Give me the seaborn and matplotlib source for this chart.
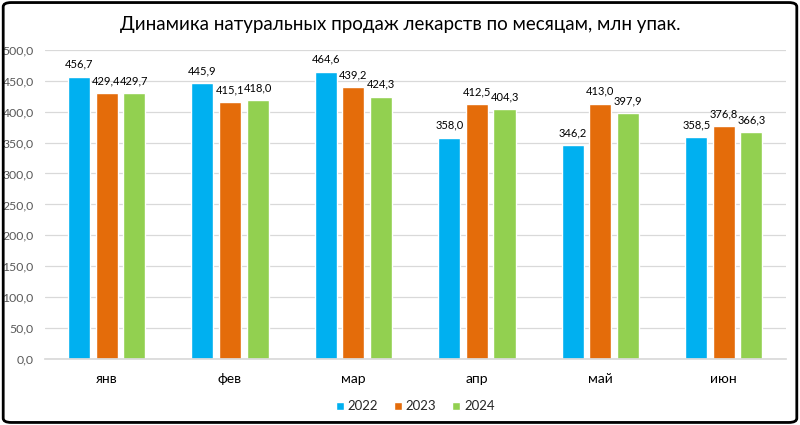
import matplotlib
matplotlib.use("Agg")
import matplotlib.pyplot as plt
import seaborn as sns
import pandas as pd
from matplotlib.patches import FancyBboxPatch
from matplotlib.ticker import FuncFormatter

months = ["янв", "фев", "мар", "апр", "май", "июн"]
years = ["2022", "2023", "2024"]
v2022 = [456.7, 445.9, 464.6, 358.0, 346.2, 358.5]
v2023 = [429.4, 415.1, 439.2, 412.5, 413.0, 376.8]
v2024 = [429.7, 418.0, 424.3, 404.3, 397.9, 366.3]
colors = ["#00B0F0", "#E46C0A", "#92D050"]
title = "Динамика натуральных продаж лекарств по месяцам, млн упак."

rows = []
for y, vals in zip(years, [v2022, v2023, v2024]):
    for m, v in zip(months, vals):
        rows.append({"month": m, "year": y, "value": v})
df = pd.DataFrame(rows)

sns.set_theme(style="white")
plt.rcParams["font.family"] = ["Lato", "DejaVu Sans"]

fig = plt.figure(figsize=(8, 4.25), dpi=100)
ax = fig.add_axes([0.056, 0.155, 0.926, 0.728])

sns.barplot(data=df, x="month", y="value", hue="year", palette=colors,
            width=0.67, gap=0.2, ax=ax, errorbar=None, saturation=1,
            order=months, hue_order=years)

ax.set_ylim(0, 500)
ax.set_yticks(range(0, 501, 50))
ax.yaxis.set_major_formatter(FuncFormatter(lambda v, p: f"{v:.1f}".replace(".", ",")))
ax.grid(axis="y", color="#D9D9D9", linewidth=0.9)
ax.set_axisbelow(True)
for s in ["top", "right", "left"]:
    ax.spines[s].set_visible(False)
ax.spines["bottom"].set_color("#D9D9D9")
ax.set_xlabel("")
ax.set_ylabel("")
ax.tick_params(axis="y", labelsize=8.8, colors="#595959", length=0, pad=8)
ax.tick_params(axis="x", labelsize=10, colors="#000000", length=0, pad=10)
ax.set_xlim(-0.5, 5.5)

for cont in ax.containers:
    ax.bar_label(cont, labels=[f"{v:.1f}".replace(".", ",") for v in cont.datavalues],
                 fontsize=8, color="#000000", padding=5)

leg = ax.legend(loc="upper center", bbox_to_anchor=(0.5, -0.095), ncol=3, frameon=False,
                fontsize=9.5, handlelength=0.6, handleheight=0.6, handletextpad=0.3,
                columnspacing=1.2)

fig.text(0.5, 0.943, title, ha="center", va="center", fontsize=13.5, color="#000000")

border = FancyBboxPatch((0.004, 0.006), 0.992, 0.988, boxstyle="round,pad=0,rounding_size=0.01",
                        transform=fig.transFigure, fill=False, edgecolor="#000000", linewidth=2)
fig.patches.append(border)

fig.savefig("out.png", dpi=100)
